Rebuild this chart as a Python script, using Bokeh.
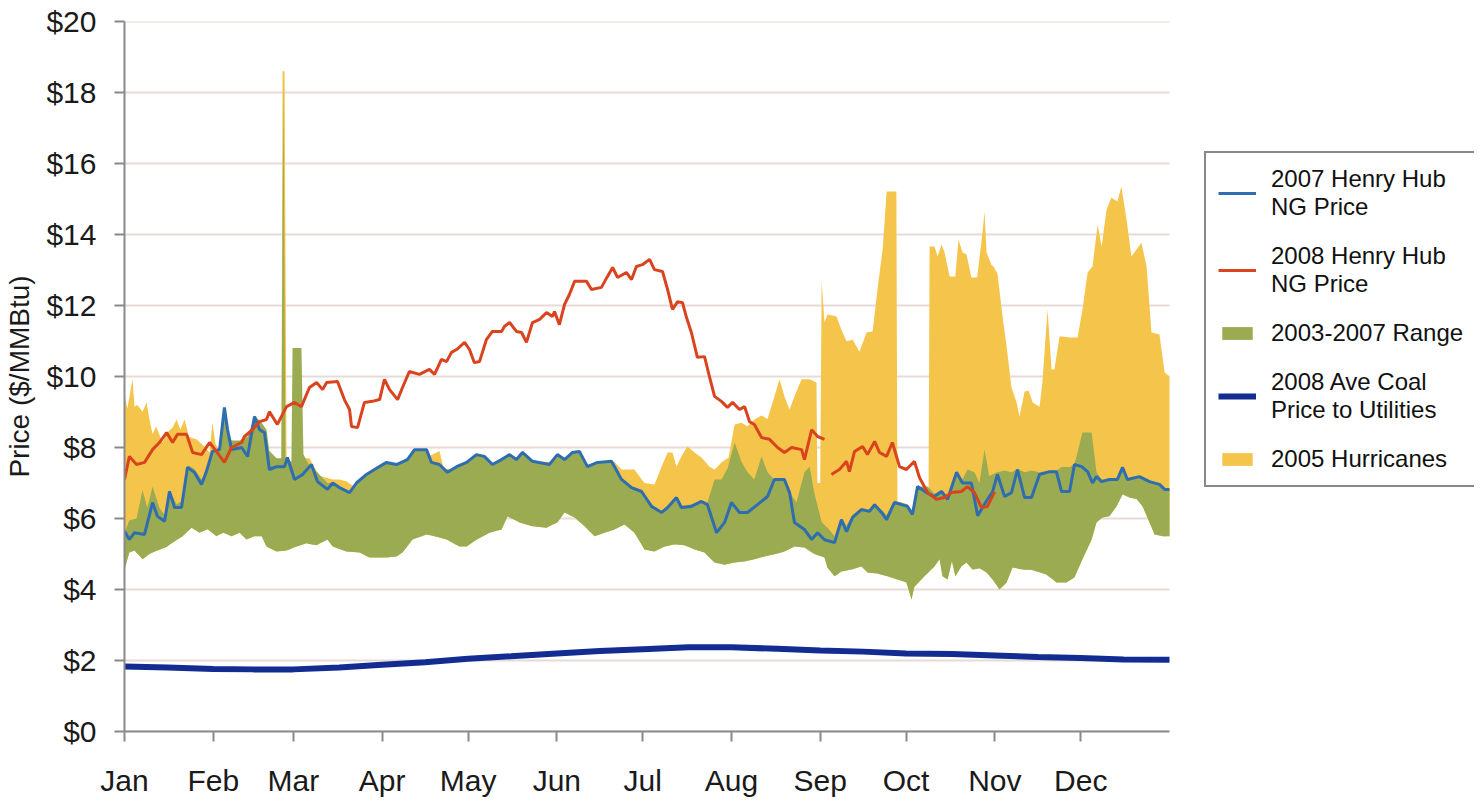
from bokeh.plotting import figure
from bokeh.models import Range1d, FixedTicker, Legend, LegendItem, NumeralTickFormatter
from bokeh.embed import file_html
from bokeh.resources import INLINE

# ---------------- data (day of year, $/MMBtu) ----------------
month_ticks = [0, 31, 59, 90, 120, 151, 181, 212, 243, 273, 304, 334]
month_labels = ["Jan", "Feb", "Mar", "Apr", "May", "Jun", "Jul", "Aug", "Sep", "Oct", "Nov", "Dec"]
price_ticks = [0, 2, 4, 6, 8, 10, 12, 14, 16, 18, 20]
year_days = 365

ng2007_day = [0, 1.7, 3.5, 7.0, 9.8, 11.5, 14.0, 15.7, 17.5, 19.9, 22.0, 24.4, 26.9, 28.6, 30.7, 33.2,
              34.9, 36.0, 37.4, 40.9, 43.0, 45.4, 47.2, 48.9, 50.6, 53.1, 55.9, 56.9, 59.4, 62.2, 65.3,
              67.4, 70.9, 72.7, 75.1, 78.6, 81.0, 84.5, 87.3, 91.5, 95.0, 98.8, 101.3, 105.5, 107.2,
              110.0, 112.8, 116.0, 119.5, 122.9, 125.7, 128.5, 131.7, 134.5, 136.9, 139.0, 142.5,
              148.4, 151.2, 153.7, 156.5, 158.9, 161.7, 165.2, 170.1, 173.6, 177.1, 180.6, 184.1,
              187.6, 189.7, 192.8, 194.5, 198.0, 201.5, 203.6, 206.8, 209.6, 212.0, 214.8, 217.6,
              221.1, 224.6, 227.0, 230.5, 232.3, 234.0, 237.5, 240.0, 242.1, 244.5, 248.0, 250.4,
              252.2, 254.3, 257.4, 260.2, 262.0, 264.4, 266.2, 268.9, 271.4, 273.5, 275.2, 277.0,
              280.1, 282.9, 285.4, 287.5, 290.6, 292.7, 295.8, 298.0, 301.1, 303.2, 304.9, 307.4,
              309.8, 311.9, 314.4, 316.8, 319.6, 323.1, 325.5, 327.3, 330.1, 331.8, 334.3, 336.4,
              338.1, 339.5, 341.3, 344.0, 346.8, 348.6, 350.3, 354.5, 358.0, 361.5, 363.3, 365]
ng2007_price = [5.64, 5.41, 5.6, 5.55, 6.45, 6.06, 5.92, 6.76, 6.31, 6.31, 7.44, 7.3, 6.96, 7.32, 7.89, 7.94,
                9.13, 8.5, 7.94, 8.0, 7.75, 8.87, 8.5, 8.42, 7.38, 7.46, 7.46, 7.72, 7.1, 7.24, 7.52,
                7.04, 6.82, 7.0, 6.87, 6.73, 7.0, 7.24, 7.38, 7.58, 7.52, 7.66, 7.94, 7.94, 7.58,
                7.52, 7.3, 7.46, 7.58, 7.8, 7.75, 7.52, 7.66, 7.8, 7.66, 7.86, 7.61,
                7.52, 7.8, 7.66, 7.86, 7.89, 7.46, 7.58, 7.61, 7.1, 6.87, 6.76, 6.34,
                6.17, 6.31, 6.59, 6.31, 6.34, 6.48, 6.39, 5.6, 5.89, 6.45, 6.17, 6.17,
                6.39, 6.62, 7.1, 7.1, 6.73, 5.89, 5.69, 5.41, 5.6, 5.4, 5.32, 5.97,
                5.63, 6.03, 6.25, 6.2, 6.39, 6.17, 5.97, 6.45, 6.39, 6.34, 6.11, 6.9,
                6.73, 6.62, 6.76, 6.54, 7.3, 7.0, 7.0, 6.08, 6.5, 6.75, 7.24, 6.62,
                6.73, 7.38, 6.59, 6.59, 7.24, 7.32, 7.32, 6.76, 6.76, 7.52, 7.46, 7.32,
                7.0, 7.18, 7.04, 7.1, 7.1, 7.44, 7.1, 7.18, 7.04, 6.96, 6.82, 6.82]

nan = float("nan")
ng2008_day = [0, 1.7, 4.2, 7.0, 9.8, 12.2, 14.7, 16.8, 18.5, 21.7, 23.8, 26.9, 29.7, 32.1, 34.9, 37.4,
              40.9, 41.9, 44.7, 47.2, 49.6, 50.6, 53.4, 56.6, 59.4, 61.8, 64.6, 67.1, 69.2, 70.6,
              74.4, 76.8, 78.6, 79.3, 81.4, 83.8, 86.6, 89.1, 90.8, 92.6, 95.4, 97.1, 99.5, 103.0,
              106.5, 108.3, 110.7, 112.5, 114.2, 116.0, 118.8, 120.5, 122.2, 124.0, 126.4, 128.5,
              131.7, 132.7, 134.5, 136.9, 138.7, 140.4, 142.5, 145.0, 147.4, 149.5, 150.2, 151.9,
              153.7, 155.4, 157.2, 161.4, 163.1, 166.6, 168.7, 170.5, 172.2, 175.3, 177.1, 178.8,
              180.9, 183.4, 185.1, 187.9, 189.7, 191.4, 193.2, 194.9, 196.3, 198.0, 200.1, 202.6,
              204.3, 206.1, 208.5, 210.6, 212.4, 214.8, 216.6, 218.3, 220.0, 222.5, 225.3, 228.1,
              230.5, 233.0, 236.5, 237.5, 240.0, 242.1, 244.5, 245.7,
              246.9, 249.7, 252.2, 253.2, 255.0, 257.8, 259.5, 262.0, 263.7, 266.2, 268.2, 270.7,
              273.1, 275.9, 277.7, 280.5, 283.6, 286.4, 288.9, 292.3, 294.4, 296.9, 299.3, 301.4, 303.9]
ng2008_price = [7.1, 7.75, 7.52, 7.58, 7.94, 8.14, 8.42, 8.14, 8.37, 8.37, 7.86, 7.8, 8.14, 7.89, 7.58, 8.0,
                8.14, 8.31, 8.5, 8.73, 8.79, 9.01, 8.65, 9.15, 9.27, 9.15, 9.69, 9.83, 9.63, 9.83,
                9.86, 9.35, 9.07, 8.59, 8.56, 9.27, 9.3, 9.35, 9.92, 9.63, 9.35, 9.69, 10.14, 10.06,
                10.2, 10.06, 10.48, 10.42, 10.68, 10.76, 10.96, 10.76, 10.39, 10.42, 11.04, 11.27,
                11.27, 11.41, 11.52, 11.27, 11.24, 10.96, 11.52, 11.61, 11.8, 11.69, 11.83, 11.46,
                12.03, 12.31, 12.68, 12.68, 12.45, 12.51, 12.82, 13.07, 12.79, 12.93, 12.73, 13.1,
                13.15, 13.3, 13.01, 12.96, 12.45, 11.89, 12.11, 12.08, 11.66, 11.24, 10.54, 10.56,
                10.0, 9.44, 9.3, 9.13, 9.27, 9.07, 9.15, 8.73, 8.65, 8.28, 8.23, 8.0,
                7.86, 8.0, 7.94, 7.66, 8.5, 8.31, 8.23, nan,
                7.24, 7.38, 7.61, 7.32, 7.89, 8.03, 7.8, 8.17, 7.86, 7.75, 8.14, 7.46,
                7.38, 7.61, 7.15, 6.73, 6.54, 6.59, 6.73, 6.76, 6.9, 6.73, 6.31, 6.34, 6.75]

range_hi_day = [0, 1.7, 4.2, 6.3, 8.0, 9.8, 12.2, 14.0, 15.7, 18.2, 20.3, 22.0, 24.4, 26.9, 29.0, 30.7,
                33.2, 34.9, 36.0, 37.4, 40.2, 43.0, 45.4, 47.9, 49.6, 50.6, 53.1, 54.8, 55.5, 56.2,
                58.3, 58.7, 61.8, 62.5, 64.6, 67.4, 70.9, 72.7, 75.1, 78.6, 81.0, 84.5, 87.3, 91.5,
                95.0, 98.8, 101.3, 105.5, 107.2, 110.0, 112.8, 116.0, 119.5, 122.9, 125.7, 128.5,
                131.7, 134.5, 136.9, 139.0, 142.5, 148.4, 151.2, 153.7, 156.5, 158.9, 161.7, 165.2,
                170.1, 173.6, 177.1, 180.6, 184.1, 187.6, 189.7, 192.8, 194.5, 198.0, 201.5, 203.6,
                206.1, 208.5, 210.6, 213.1, 215.5, 217.6, 220.0, 222.5, 224.6, 227.0, 230.5, 232.3,
                234.7, 237.5, 239.3, 241.0, 243.5, 246.0, 248.0, 250.4, 252.2, 254.3, 257.4, 260.2,
                262.0, 264.4, 266.2, 268.9, 271.4, 273.5, 275.2, 277.0, 280.5, 282.9, 285.4, 287.5,
                290.6, 292.7, 294.4, 296.9, 298.6, 300.4, 302.0, 304.9, 307.4, 309.8, 311.9, 314.4,
                316.8, 319.6, 323.1, 325.5, 327.3, 330.1, 331.8, 334.6, 337.8, 339.5, 341.3, 344.0,
                346.8, 348.6, 350.3, 354.5, 358.0, 361.5, 363.3, 365]
range_hi = [5.6, 5.95, 6.0, 6.8, 6.3, 6.9, 6.3, 6.1, 6.8, 6.4, 6.5, 7.5, 7.4, 7.1, 7.4, 7.9,
            8.0, 9.13, 8.5, 8.2, 8.2, 8.3, 8.9, 8.7, 8.5, 7.9, 7.7, 7.7, 18.6, 7.7,
            7.6, 10.8, 10.8, 7.8, 7.5, 7.3, 7.0, 7.0, 6.9, 6.75, 7.0, 7.25, 7.4, 7.6,
            7.55, 7.7, 7.95, 7.95, 7.6, 7.55, 7.3, 7.5, 7.6, 7.8, 7.75, 7.55,
            7.7, 7.8, 7.7, 7.9, 7.6, 7.55, 7.8, 7.7, 7.9, 7.9, 7.5, 7.6,
            7.6, 7.1, 6.9, 6.8, 6.4, 6.2, 6.35, 6.6, 6.35, 6.4, 6.5, 6.45,
            7.1, 7.1, 7.4, 8.14, 7.6, 7.3, 7.1, 7.75, 7.3, 7.1, 7.1, 6.75,
            6.45, 7.3, 7.46, 6.7, 5.9, 5.7, 5.5, 6.0, 5.8, 6.1, 6.3, 6.25,
            6.4, 6.25, 6.1, 6.5, 6.45, 6.4, 6.2, 6.9, 6.9, 6.7, 6.8, 6.6,
            7.3, 7.1, 7.38, 7.3, 7.0, 7.94, 7.2, 7.3, 7.35, 7.3, 7.4, 7.3,
            7.35, 7.3, 7.35, 7.35, 7.45, 7.45, 7.52, 8.42, 8.42, 7.3, 7.1, 7.1,
            7.1, 7.44, 7.1, 7.18, 7.04, 6.96, 6.82, 6.82]

range_lo_day = [0, 1.7, 3.5, 6.3, 8.7, 11.5, 14.7, 16.8, 20.3, 23.4, 26.2, 29.0, 32.1, 34.5, 37.4, 40.2,
                42.6, 45.4, 47.9, 49.6, 53.1, 56.6, 60.1, 63.5, 67.1, 70.9, 72.7, 77.5, 82.1, 85.6,
                91.5, 95.0, 97.1, 100.6, 105.5, 108.3, 112.5, 117.0, 119.5, 122.9, 127.5, 131.7,
                133.8, 138.0, 142.5, 147.4, 151.2, 153.7, 157.2, 160.7, 164.2, 167.7, 171.1, 174.6,
                178.1, 181.6, 185.1, 188.6, 192.1, 195.5, 199.1, 202.6, 206.1, 209.6, 213.1, 216.6,
                220.0, 223.5, 227.0, 230.5, 234.0, 237.5, 241.0, 244.5, 245.5, 248.0, 250.4, 253.9,
                257.4, 259.5, 263.0, 266.5, 270.0, 273.1, 274.9, 275.9, 279.4, 282.9, 284.7, 285.7,
                287.5, 289.0, 290.2, 292.3, 294.1, 296.2, 298.6, 301.1, 303.2, 305.6, 308.1, 310.2,
                313.7, 317.0, 322.0, 325.5, 329.0, 331.8, 334.6, 337.8, 339.5, 341.6, 344.0, 346.5,
                348.6, 351.0, 353.5, 355.6, 358.0, 359.8, 362.6, 365]
range_lo = [4.56, 5.04, 5.1, 4.85, 5.0, 5.1, 5.2, 5.32, 5.5, 5.74, 5.6, 5.7, 5.5, 5.6, 5.5, 5.6,
            5.41, 5.5, 5.5, 5.21, 5.07, 5.1, 5.21, 5.3, 5.25, 5.41, 5.21, 5.07, 5.04, 4.9,
            4.9, 4.93, 5.04, 5.41, 5.55, 5.5, 5.41, 5.21, 5.21, 5.4, 5.6, 5.69,
            6.06, 5.89, 5.78, 5.74, 5.89, 6.17, 6.03, 5.78, 5.5, 5.6, 5.69, 5.83,
            5.6, 5.13, 5.07, 5.21, 5.27, 5.25, 5.13, 5.04, 4.76, 4.7, 4.76, 4.79,
            4.85, 4.93, 4.99, 5.07, 5.21, 5.18, 5.0, 4.9, 4.62, 4.37, 4.51, 4.56,
            4.65, 4.48, 4.45, 4.37, 4.28, 4.2, 3.72, 4.08, 4.37, 4.65, 4.85, 4.37,
            4.28, 4.8, 4.37, 4.65, 4.76, 4.56, 4.6, 4.48, 4.28, 4.0, 4.2, 4.62,
            4.56, 4.55, 4.42, 4.2, 4.2, 4.34, 4.85, 5.41, 5.89, 6.03, 6.06, 6.34,
            6.68, 6.59, 6.55, 6.34, 5.89, 5.55, 5.5, 5.5]

hurr2005_day = [0, 1.0, 2.8, 3.5, 4.5, 6.3, 7.7, 8.7, 9.8, 11.0, 13.3, 14.7, 16.8, 18.2, 19.5, 21.0,
                22.5, 25.1, 27.0, 29.7, 30.7, 31.8, 33.2, 35.0, 40.0, 50.0, 54.8, 55.2, 55.9, 56.6,
                58.0, 61.8, 64.6, 68.0, 72.7, 75.1, 77.5, 80.0, 90.0, 100.0, 110.0, 111.5, 120.0,
                130.0, 140.0, 150.0, 160.0, 165.0, 170.1, 171.1, 173.6, 178.1, 181.6, 185.1, 187.6,
                189.7, 191.4, 192.8, 194.5, 196.6, 199.1, 201.5, 204.3, 206.1, 208.5, 211.0, 213.1,
                215.5, 217.6, 220.0, 222.5, 224.6, 227.0, 228.8, 230.5, 232.3, 234.0, 236.5, 239.3,
                241.0, 241.7, 242.0, 243.0, 243.5, 244.5, 245.5, 248.7, 250.4, 252.2, 254.3, 256.7,
                259.2, 261.3, 263.0, 264.8, 266.2, 268.9, 269.6, 270.0, 275.0, 280.8, 281.2, 282.9,
                284.0, 285.4, 286.4, 288.2, 290.2, 291.3, 292.7, 294.1, 295.8, 297.8, 299.7, 300.4,
                301.1, 302.8, 303.5, 304.9, 306.7, 308.1, 309.8, 311.6, 312.6, 314.4, 315.8, 317.2,
                319.6, 320.6, 322.4, 323.8, 324.8, 326.6, 330.1, 332.9, 334.6, 336.4, 338.1, 339.9,
                341.3, 343.0, 344.7, 346.8, 348.2, 350.0, 351.7, 353.5, 355.2, 357.0, 358.7, 361.5,
                363.3, 365]
hurr2005 = [9.49, 9.1, 9.92, 9.15, 9.2, 9.01, 9.27, 8.8, 8.37, 8.6, 8.14, 8.4, 8.56, 8.79, 8.5, 8.79,
            8.3, 8.23, 8.1, 7.86, 8.7, 8.1, 7.9, 7.5, 7.5, 7.6, 7.7, 18.6, 18.6, 7.7,
            7.5, 7.7, 7.7, 7.2, 7.1, 7.1, 7.05, 6.9, 7.4, 7.5, 7.9, 7.4, 7.4,
            7.5, 7.6, 7.6, 7.5, 7.5, 7.6, 7.6, 7.38, 7.38, 7.0, 6.96, 7.46,
            7.86, 7.86, 7.46, 7.75, 8.03, 7.86, 7.72, 7.46, 7.38, 7.58, 7.72, 8.65,
            8.7, 8.6, 8.79, 8.9, 8.8, 9.44, 9.92, 9.44, 9.07, 9.44, 9.92, 9.92,
            9.86, 9.83, 7.0, 7.0, 12.68, 11.52, 11.75, 11.69, 11.32, 10.99, 11.04, 10.7,
            11.24, 11.27, 12.45, 13.58, 15.21, 15.21, 15.21, 6.0, 6.0, 6.0, 13.66, 13.66,
            13.38, 13.72, 13.5, 12.82, 12.82, 13.86, 13.49, 13.44, 12.79, 12.79, 14.06, 14.65,
            13.49, 13.15, 13.1, 12.9, 11.69, 10.85, 9.69, 9.27, 8.87, 9.58, 9.6, 9.27,
            9.15, 9.83, 11.89, 10.2, 10.2, 11.13, 11.1, 11.1, 11.89, 12.93, 13.1, 14.28,
            13.66, 14.7, 15.04, 14.93, 15.35, 14.42, 13.38, 13.58, 13.77, 13.1, 11.24, 11.18,
            10.11, 10.0]

coal_day = [0, 15, 31, 45, 59, 75, 90, 105, 120, 135, 151, 166, 181, 197, 212, 228, 243, 258,
            273, 289, 304, 319, 334, 349, 365]
coal_price = [1.83, 1.8, 1.76, 1.75, 1.75, 1.8, 1.88, 1.95, 2.05, 2.12, 2.2, 2.27, 2.32, 2.37, 2.37,
              2.33, 2.28, 2.25, 2.2, 2.18, 2.14, 2.1, 2.07, 2.03, 2.02]

legend_labels = ["2007 Henry Hub\nNG Price", "2008 Henry Hub\nNG Price", "2003-2007 Range",
                 "2008 Ave Coal\nPrice to Utilities", "2005 Hurricanes"]

# ---------------- helpers ----------------
def interp(xs, ys, xq):
    out = []
    j = 0
    for x in xq:
        while j < len(xs) - 2 and xs[j + 1] < x:
            j += 1
        x0, x1, y0, y1 = xs[j], xs[j + 1], ys[j], ys[j + 1]
        t = 0 if x1 == x0 else (x - x0) / (x1 - x0)
        t = max(0.0, min(1.0, t))
        out.append(y0 + t * (y1 - y0))
    return out

# common x grid for the filled areas (union of the read-off days)
grid = sorted(set(range_hi_day) | set(range_lo_day) | set(hurr2005_day))
lo_g = interp(range_lo_day, range_lo, grid)
hi_g = interp(range_hi_day, range_hi, grid)
hu_g = interp(hurr2005_day, hurr2005, grid)
hu_g = [max(h, l) for h, l in zip(hu_g, lo_g)]

FONT = "Liberation Sans"
BLUE = "#2e6db0"
RED = "#d9441f"
GREEN = "#9aab52"
YELLOW = "#f5c54b"
NAVY = "#132c91"
AXIS = "#8a8a8a"

# layout (pixels): the frame spans the whole width right of the y axis; the data
# area uses the first DATA_PX pixels of it, the legend sits in the rest.
W, H = 1474, 800
LEFT, TOP, BOTTOM = 124, 21, 69
DATA_PX = 1045
FRAME_PX = W - LEFT
x_end = year_days * FRAME_PX / DATA_PX

p = figure(width=W, height=H, output_backend="svg", toolbar_location=None,
           x_range=Range1d(0, x_end), y_range=Range1d(0, 20),
           min_border_left=LEFT, min_border_right=0, min_border_top=TOP, min_border_bottom=BOTTOM,
           background_fill_color="white", border_fill_color="white")
p.outline_line_color = None
p.xgrid.grid_line_color = None
p.ygrid.grid_line_color = None

# horizontal gridlines restricted to the data area
p.segment(x0=[0] * len(price_ticks), x1=[year_days] * len(price_ticks), y0=price_ticks, y1=price_ticks,
          line_color="#e6dbd6", line_width=2)

r_hur = p.varea(x=grid, y1=lo_g, y2=hu_g, fill_color=YELLOW, fill_alpha=1.0)
r_rng = p.varea(x=grid, y1=lo_g, y2=hi_g, fill_color=GREEN, fill_alpha=1.0)
r_07 = p.line(ng2007_day, ng2007_price, line_color=BLUE, line_width=3)
r_08 = p.line(ng2008_day, ng2008_price, line_color=RED, line_width=3)
r_coal = p.line(coal_day, coal_price, line_color=NAVY, line_width=6)

# axes
p.xaxis.ticker = FixedTicker(ticks=month_ticks)
p.xaxis.major_label_overrides = {t: l for t, l in zip(month_ticks, month_labels)}
p.xaxis.bounds = (0, year_days)
p.yaxis.ticker = FixedTicker(ticks=price_ticks)
p.yaxis.formatter = NumeralTickFormatter(format="$0")
for ax in (p.xaxis[0], p.yaxis[0]):
    ax.axis_line_color = AXIS
    ax.axis_line_width = 2
    ax.major_tick_line_color = AXIS
    ax.major_tick_line_width = 2
    ax.major_tick_out = 10
    ax.major_tick_in = 0
    ax.minor_tick_line_color = None
    ax.major_label_text_font = FONT
    ax.major_label_text_font_size = "30px"
    ax.major_label_text_color = "#1a1a1a"
p.xaxis.major_label_standoff = 22
p.yaxis.major_label_standoff = 18
p.yaxis.axis_label = "Price ($/MMBtu)"
p.yaxis.axis_label_text_font = FONT
p.yaxis.axis_label_text_font_size = "28px"
p.yaxis.axis_label_text_font_style = "normal"
p.yaxis.axis_label_text_color = "#1a1a1a"
p.yaxis.axis_label_standoff = 8

legend = Legend(items=[
    LegendItem(label=legend_labels[0], renderers=[r_07]),
    LegendItem(label=legend_labels[1], renderers=[r_08]),
    LegendItem(label=legend_labels[2], renderers=[r_rng]),
    LegendItem(label=legend_labels[3], renderers=[r_coal]),
    LegendItem(label=legend_labels[4], renderers=[r_hur]),
], location=(DATA_PX + 35, 244))
legend.label_text_font = FONT
legend.label_text_font_size = "24px"
legend.label_text_color = "#111111"
legend.border_line_color = "#111111"
legend.border_line_width = 2
legend.background_fill_color = "white"
legend.background_fill_alpha = 1.0
legend.glyph_width = 38
legend.glyph_height = 16
legend.spacing = 21
legend.padding = 12
legend.margin = 0
legend.label_standoff = 15
p.add_layout(legend, "center")

open("out.html", "w").write(file_html(p, INLINE))
